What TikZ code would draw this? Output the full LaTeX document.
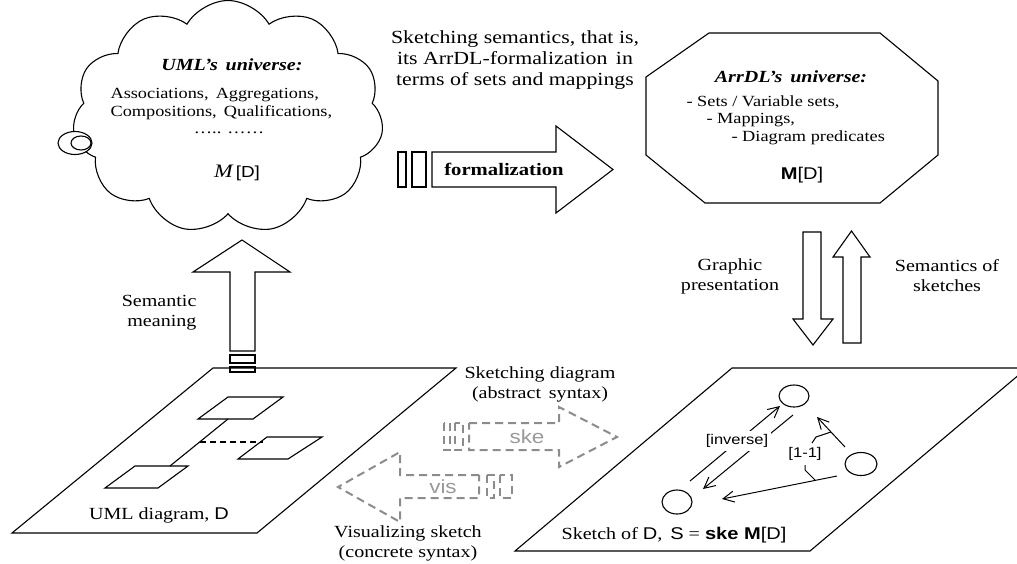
\documentclass[tikz,border=0pt]{standalone}
\usepackage{fontspec}
\setmainfont{Liberation Serif}[FakeStretch=1.18]
\setsansfont{Liberation Sans}[FakeStretch=1.18]
\usetikzlibrary{shapes.symbols,shapes.geometric,arrows.meta,calc}
\begin{document}
\begin{tikzpicture}[x=1pt,y=-1pt,line width=1.1pt,
  txt/.style={inner sep=0pt, align=center},
  fA/.style={font=\fontsize{17}{20}\selectfont},
  fB/.style={font=\fontsize{15.5}{18}\selectfont},
  fT/.style={font=\fontsize{18.5}{21}\selectfont},
  dsh/.style={draw=black!45, line width=2pt, dash pattern=on 8pt off 5pt},
  sk/.style={line width=1pt, -{Straight Barb[length=11pt,width=11pt]}},
  circ/.style={ellipse, draw, line width=1.1pt, minimum width=30pt, minimum height=22pt, inner sep=0pt}]
\useasboundingbox (0,0) rectangle (1017,563);
\clip (0,0) rectangle (1017,563);

% ---------- cloud (UML universe) ----------
\node[cloud, draw, fill=white, cloud puffs=11, cloud puff arc=120, aspect=1.3,
      minimum width=311pt, minimum height=233pt, inner sep=0pt] (cloud) at (228,117) {};
\node[ellipse, draw, fill=white, minimum width=34pt, minimum height=23pt, inner sep=0pt] (bub1) at (75,143) {};
\node[ellipse, draw, minimum width=20pt, minimum height=14pt, inner sep=0pt] (bub2) at (81,143) {};
\node[txt, font=\fontsize{17}{20}\selectfont\bfseries\itshape] (umlu) at (232,65) {UML’s\, universe:};
\node[txt, fB, align=left, anchor=west] (umll) at (110,104) {Associations,\, Aggregations,\\Compositions,\, Qualifications,};
\node[txt, fB] (dots) at (229,133) {….. ……};
\node[txt] (mdu) at (237,173) {\fontsize{19}{20}\selectfont\itshape M\,\upshape\sffamily\fontsize{16}{20}\selectfont[D]};

% ---------- top text ----------
\node[txt, fT] (sem) at (515,60) {Sketching semantics, that is,\\its ArrDL-formalization\, in\\terms of sets and mappings};

% ---------- formalization arrow ----------
\draw (398,152) rectangle (406,187);
\draw (412,152) rectangle (426,187);
\draw (432,152) -- (556,152) -- (556,126) -- (613,169.5) -- (556,213) -- (556,187) -- (432,187) -- cycle;
\node[txt, font=\fontsize{17.5}{20}\selectfont\bfseries] (form) at (504,169) {formalization};

% ---------- octagon (ArrDL universe) ----------
\draw (709,33) -- (880,33) -- (938,81) -- (938,155) -- (880,203) -- (705,203) -- (646,155) -- (646,77) -- cycle;
\node[txt, font=\fontsize{17}{20}\selectfont\bfseries\itshape] (arru) at (791,77) {ArrDL’s\, universe:};
\node[txt, fB, anchor=west] (o1) at (686,102) {- Sets / Variable sets,};
\node[txt, fB, anchor=west] (o2) at (706,120) {- Mappings,};
\node[txt, fB, anchor=west] (o3) at (731,138) {- Diagram predicates};
\node[txt, font=\sffamily\fontsize{17}{20}\selectfont] (md) at (802,175) {\bfseries M\mdseries[D]};

% ---------- semantic meaning arrow ----------
\draw (230,351) -- (230,272) -- (193,272) -- (242,240) -- (290,272) -- (255,272) -- (255,351) -- cycle;
\draw (230,355) rectangle (255,363);
\draw (230,367) rectangle (255,372);
\node[txt, fA, align=right, anchor=east] (smean) at (197,313) {Semantic\\meaning};

% ---------- graphic presentation / semantics arrows ----------
\draw (803,232) -- (821,232) -- (821,319) -- (833,319) -- (813,345) -- (793,319) -- (803,319) -- cycle;
\draw (843,343) -- (843,257) -- (833,257) -- (851.5,231) -- (870,257) -- (861,257) -- (861,343) -- cycle;
\node[txt, fA] (gp) at (730,276) {Graphic\\presentation};
\node[txt, fA] (ss) at (947,276) {Semantics of\\sketches};

% ---------- UML diagram plane ----------
\draw (12,533) -- (213,368) -- (456,368) -- (257,533) -- cycle;
\draw (198,419) -- (228,397) -- (283,397) -- (253,419) -- cycle;
\draw (238,459) -- (267,437) -- (322,437) -- (288,459) -- cycle;
\draw (105,488) -- (135,466) -- (188,466) -- (158,488) -- cycle;
\draw (228,419) -- (170,466);
\draw[dashed, dash pattern=on 6pt off 4pt] (200,442) -- (263,442);
\node[txt, fA] (umld) at (159,515) {UML diagram, \sffamily D};

% ---------- sketch plane ----------
\draw (515,551) -- (732,368) -- (1027,368) -- (810,551) -- cycle;
\node[fill=white, inner sep=5pt, fA] (skd) at (674,535) {Sketch of {\sffamily D},\, {\sffamily S} = {\sffamily\bfseries ske M}{\sffamily[D]}};
\node[circ] (c1) at (794,396) {};
\node[circ, minimum width=32pt, minimum height=23pt] (c2) at (861,464) {};
\node[circ, minimum width=30pt, minimum height=24pt] (c3) at (677,502) {};
\draw[sk] ($(c3)+(13,-21)$) -- ($(c1)+(-14,10)$);
\draw[sk] ($(c1)+(-1,19)$) -- ($(c3)+(26,-13)$);
\draw[sk] ($(c2)+(-16,-17)$) -- ($(c1)+(23,21)$);
\draw[sk] ($(c2)+(-24,12)$) -- ($(c3)+(45,-3)$);
\node[fill=white, inner sep=3pt, font=\sffamily\fontsize{14}{16}\selectfont] (inv) at (737,441) {[inverse]};
\coordinate (q1) at (815,480);
\coordinate (q2) at (831,432);
\draw[line width=1pt] (q1) -- (805,470) -- (805,465);
\draw[line width=1pt] (812,443) -- (816,437) -- (q2);
\node[inner sep=0pt, font=\sffamily\fontsize{14}{16}\selectfont] (one) at (805,454) {[1-1]};

% ---------- dashed ske / vis arrows ----------
\draw[dsh] (444,423) rectangle (450,450);
\draw[dsh] (455,423) rectangle (463,450);
\draw[dsh] (469,423) -- (559,423) -- (559,407) -- (617,437) -- (559,467) -- (559,450) -- (469,450) -- cycle;
\node[txt, text=black!40, font=\sffamily\fontsize{19}{20}\selectfont] (ske) at (527,437) {ske};
\draw[dsh] (487,475) rectangle (494,498);
\draw[dsh] (500,475) rectangle (512,498);
\draw[dsh] (479,475) -- (400,475) -- (400,452) -- (338,487) -- (400,522) -- (400,498) -- (479,498) -- cycle;
\node[txt, text=black!40, font=\sffamily\fontsize{19}{20}\selectfont] (vis) at (443,487) {vis};
\node[txt, fA] (sdg) at (540,384) {Sketching diagram\\(abstract\, syntax)};
\node[txt, fA] (vsk) at (408,543) {Visualizing sketch\\(concrete syntax)};
\end{tikzpicture}
\end{document}
